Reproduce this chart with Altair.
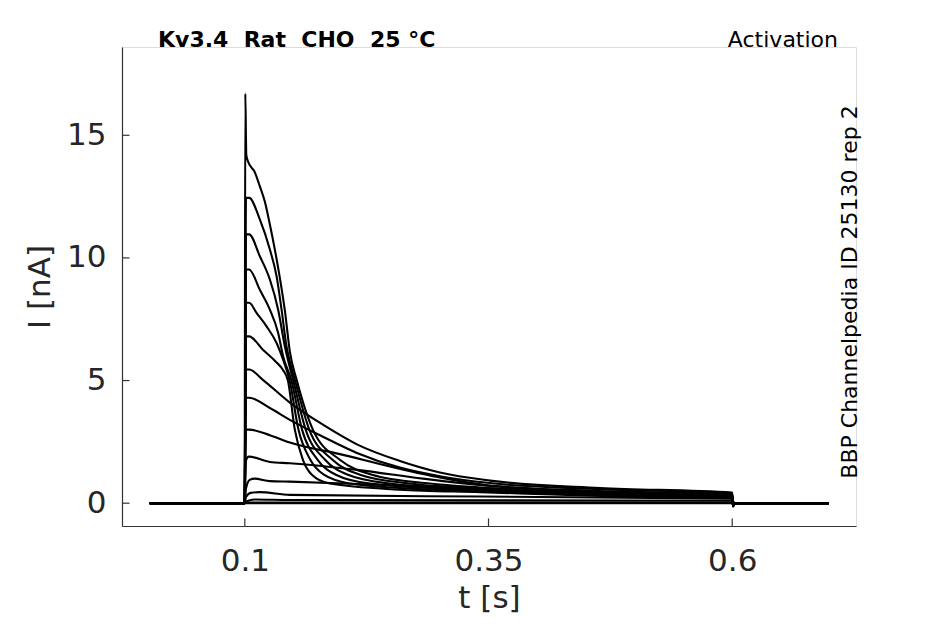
import altair as alt
import pandas as pd

# ---- traces: time [s] and current [nA] ----
t_A = [0.0025, 0.0998, 0.1005, 0.1015, 0.1031, 0.1103, 0.1154, 0.1205, 0.1257, 0.1308, 0.1359, 0.1411, 0.1462, 0.1534, 0.1698, 0.1975, 0.2304, 0.2899, 0.3413, 0.4645, 0.6, 0.6008, 0.603, 0.699]
i_A = [0, 0, 16.7, 14.2, 13.95, 13.49, 12.92, 12.30, 11.36, 10.34, 9.20, 7.85, 6.18, 5.0, 3.0, 1.77, 1.16, 0.8, 0.64, 0.43, 0.33, -0.14, 0, 0]

t_B = [0.0025, 0.0998, 0.1012, 0.1044, 0.1154, 0.1257, 0.1326, 0.1377, 0.1428, 0.1448, 0.1515, 0.1661, 0.1899, 0.2181, 0.2694, 0.3413, 0.4645, 0.6, 0.6008, 0.603, 0.699]
i_B = [0, 0, 12.45, 12.45, 11.57, 10.34, 9.25, 7.89, 6.39, 6.0, 5.0, 3.0, 1.77, 1.16, 0.8, 0.6, 0.41, 0.31, -0.12, 0, 0]

t_C = [0.0025, 0.0998, 0.1012, 0.1044, 0.1154, 0.1257, 0.1342, 0.1411, 0.1433, 0.1497, 0.1624, 0.1823, 0.2058, 0.2489, 0.3413, 0.4645, 0.6, 0.6008, 0.603, 0.699]
i_C = [0, 0, 10.96, 10.96, 10.07, 9.12, 7.89, 6.39, 6.0, 5.0, 3.0, 1.77, 1.16, 0.8, 0.56, 0.38, 0.28, -0.12, 0, 0]

t_D = [0.0025, 0.0998, 0.1012, 0.1044, 0.1154, 0.1257, 0.1342, 0.1393, 0.1478, 0.1587, 0.1747, 0.1934, 0.2283, 0.3413, 0.4645, 0.6, 0.6008, 0.603, 0.699]
i_D = [0, 0, 9.53, 9.53, 8.70, 7.89, 6.94, 5.99, 5.0, 3.0, 1.77, 1.16, 0.8, 0.52, 0.36, 0.26, -0.1, 0, 0]

t_E = [0.0025, 0.0998, 0.1012, 0.1044, 0.1120, 0.1223, 0.1326, 0.1393, 0.1460, 0.1550, 0.1672, 0.1811, 0.2078, 0.2591, 0.3413, 0.4645, 0.6, 0.6008, 0.603, 0.699]
i_E = [0, 0, 8.17, 8.17, 7.76, 7.21, 6.53, 5.85, 5.0, 3.0, 1.77, 1.16, 0.8, 0.62, 0.48, 0.33, 0.23, -0.1, 0, 0]

t_F = [0.0025, 0.0998, 0.1012, 0.1044, 0.1185, 0.1318, 0.1390, 0.1442, 0.1513, 0.1596, 0.1688, 0.1873, 0.2591, 0.3413, 0.4645, 0.6, 0.6008, 0.603, 0.699]
i_F = [0, 0, 6.8, 6.8, 6.26, 5.77, 5.44, 5.0, 3.0, 1.77, 1.16, 0.8, 0.55, 0.45, 0.30, 0.20, -0.1, 0, 0]

t_G = [0.0025, 0.0998, 0.1012, 0.1044, 0.1185, 0.1462, 0.1801, 0.2150, 0.2591, 0.3002, 0.3515, 0.4645, 0.6, 0.6008, 0.603, 0.699]
i_G = [0, 0, 5.45, 5.45, 5.03, 4.1, 3.2, 2.4, 1.72, 1.25, 0.92, 0.62, 0.43, -0.1, 0, 0]

t_H = [0.0025, 0.0998, 0.1012, 0.1044, 0.1257, 0.1462, 0.1801, 0.2150, 0.2591, 0.3002, 0.3515, 0.4645, 0.6, 0.6008, 0.603, 0.699]
i_H = [0, 0, 4.3, 4.3, 3.88, 3.4, 2.71, 2.05, 1.45, 1.1, 0.82, 0.57, 0.40, -0.1, 0, 0]

t_I = [0.0025, 0.0998, 0.1012, 0.1044, 0.1257, 0.1462, 0.1975, 0.2489, 0.3002, 0.3515, 0.4645, 0.6, 0.6008, 0.603, 0.699]
i_I = [0, 0, 3.0, 3.0, 2.77, 2.47, 2.0, 1.5, 1.05, 0.72, 0.50, 0.37, -0.08, 0, 0]

t_J = [0.0025, 0.0998, 0.1012, 0.1040, 0.1257, 0.1462, 0.2150, 0.2828, 0.3515, 0.4645, 0.6, 0.6008, 0.603, 0.699]
i_J = [0, 0, 1.75, 1.9, 1.68, 1.63, 1.36, 1.0, 0.7, 0.45, 0.30, -0.06, 0, 0]

t_K = [0.0025, 0.0998, 0.1012, 0.1050, 0.1100, 0.1257, 0.1462, 0.2591, 0.3515, 0.4645, 0.6, 0.6008, 0.603, 0.699]
i_K = [0, 0, 0.6, 0.95, 1.0, 0.9, 0.88, 0.72, 0.6, 0.42, 0.27, -0.05, 0, 0]

t_L = [0.0025, 0.0998, 0.1012, 0.1060, 0.1150, 0.1462, 0.3413, 0.6, 0.6008, 0.603, 0.699]
i_L = [0, 0, 0.25, 0.42, 0.45, 0.34, 0.27, 0.18, -0.04, 0, 0]

t_M = [0.0025, 0.0998, 0.1020, 0.1100, 0.1462, 0.6, 0.603, 0.699]
i_M = [0, 0, 0.08, 0.15, 0.13, 0.10, 0, 0]

t_N = [0.0025, 0.0998, 0.1012, 0.6, 0.603, 0.699]
i_N = [0, 0, 0.03, 0.03, 0, 0]

t_O = [0.0025, 0.699]
i_O = [0, 0]

traces = {
    "A": (t_A, i_A), "B": (t_B, i_B), "C": (t_C, i_C), "D": (t_D, i_D),
    "E": (t_E, i_E), "F": (t_F, i_F), "G": (t_G, i_G), "H": (t_H, i_H),
    "I": (t_I, i_I), "J": (t_J, i_J), "K": (t_K, i_K), "L": (t_L, i_L),
    "M": (t_M, i_M), "N": (t_N, i_N), "O": (t_O, i_O),
}

x_ticks = [0.1, 0.35, 0.6]
y_ticks = [0, 5, 10, 15]
x_domain = [-0.026, 0.727]
y_domain = [-0.93, 18.6]

NB = "\u00a0"
title_text = f"Kv3.4 {NB}Rat {NB}CHO {NB}25 °C"
protocol_text = "Activation"
side_text = "BBP Channelpedia ID 25130 rep 2"

rows = []
for name, (ts, cs) in traces.items():
    for k, (tt, cc) in enumerate(zip(ts, cs)):
        rows.append({"trace": name, "order": k, "t": tt, "I": cc})
df = pd.DataFrame(rows)

FONT = "DejaVu Sans"
W, H = 734, 479

xscale = alt.Scale(domain=x_domain, nice=False, zero=False)
yscale = alt.Scale(domain=y_domain, nice=False, zero=False)

lines = alt.Chart(df).mark_line(color="black", strokeWidth=2.1, interpolate="monotone", clip=True).encode(
    x=alt.X("t:Q", scale=xscale, title="t [s]",
            axis=alt.Axis(values=x_ticks, format="~g", ticks=False, grid=False,
                          labelFontSize=31, labelFont=FONT, labelColor="#262626",
                          labelPadding=20, titleFontSize=31, titleFont=FONT,
                          titleFontWeight="normal", titleColor="#262626", titlePadding=7,
                          domainColor="#333333", domainWidth=1.2)),
    y=alt.Y("I:Q", scale=yscale, title="I [nA]",
            axis=alt.Axis(values=y_ticks, format="d", ticks=False, grid=False,
                          labelFontSize=31, labelFont=FONT, labelColor="#262626",
                          labelPadding=16, titleFontSize=31, titleFont=FONT,
                          titleFontWeight="normal", titleColor="#262626", titlePadding=10,
                          domainColor="#333333", domainWidth=1.2)),
    detail="trace:N",
    order="order:Q",
)

xt = alt.Chart(pd.DataFrame({"v": x_ticks})).mark_rule(color="#333333", strokeWidth=1.2).encode(
    x=alt.X("v:Q", scale=xscale), y=alt.value(H), y2=alt.value(H - 7.5))
yt = alt.Chart(pd.DataFrame({"v": y_ticks})).mark_rule(color="#333333", strokeWidth=1.2).encode(
    y=alt.Y("v:Q", scale=yscale), x=alt.value(0), x2=alt.value(7.5))

one = pd.DataFrame({"a": [0]})
t1 = alt.Chart(one).mark_text(font=FONT, fontSize=22, fontWeight="bold", align="left",
                              baseline="alphabetic", color="black").encode(
    x=alt.value(36), y=alt.value(0), text=alt.value(title_text))
t2 = alt.Chart(one).mark_text(font=FONT, fontSize=22, align="right",
                              baseline="alphabetic", color="black").encode(
    x=alt.value(716), y=alt.value(0), text=alt.value(protocol_text))
t3 = alt.Chart(one).mark_text(font=FONT, fontSize=22, align="center", angle=270,
                              baseline="middle", color="black").encode(
    x=alt.value(728), y=alt.value(245), text=alt.value(side_text))

chart = alt.layer(lines, xt, yt, t1, t2, t3).properties(
    width=W, height=H,
    autosize=alt.AutoSizeParams(type="none"),
    padding={"left": 114, "top": 39, "right": 81, "bottom": 90},
).configure_view(stroke=None).configure(background="white")

chart.save("out.html", embed_options={"renderer": "svg", "actions": False})
